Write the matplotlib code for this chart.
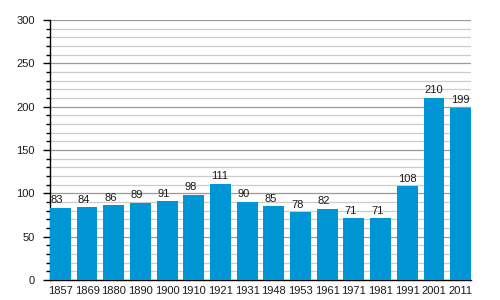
import matplotlib
matplotlib.use("Agg")
import matplotlib.pyplot as plt
from matplotlib.ticker import MultipleLocator

years = ["1857", "1869", "1880", "1890", "1900", "1910", "1921", "1931",
         "1948", "1953", "1961", "1971", "1981", "1991", "2001", "2011"]
values = [83, 84, 86, 89, 91, 98, 111, 90, 85, 78, 82, 71, 71, 108, 210, 199]

plt.rcParams['font.family'] = ['Liberation Sans', 'DejaVu Sans']

fig = plt.figure(figsize=(5, 3), dpi=100)
ax = fig.add_axes([0.1, 0.0667, 0.842, 0.8667])

w = 0.78
x = list(range(len(years)))
ax.bar(x, values, width=w, color="#0096d6", zorder=3)
for xi, v in zip(x, values):
    ax.text(xi - w / 2 + 0.03, v + 3, str(v), ha="left", va="bottom",
            fontsize=8, color="#1a1a1a", zorder=4)

ax.set_xlim(-w / 2, len(years) - 1 + w / 2)
ax.set_ylim(0, 300)
ax.set_xticks(x)
ax.set_xticklabels(years)
ax.yaxis.set_major_locator(MultipleLocator(50))
ax.yaxis.set_minor_locator(MultipleLocator(10))
ax.grid(axis="y", which="major", color="#999999", linewidth=0.9, zorder=1)
ax.grid(axis="y", which="minor", color="#cccccc", linewidth=0.9, zorder=1)
ax.grid(axis="x", visible=False)

for s in ["top", "right"]:
    ax.spines[s].set_visible(False)
ax.spines["left"].set_color("black")
ax.spines["bottom"].set_color("black")
ax.spines["left"].set_linewidth(1.0)
ax.spines["bottom"].set_linewidth(1.0)

ax.tick_params(axis="x", length=0, pad=4, labelsize=8, colors="#1a1a1a")
ax.tick_params(axis="y", which="major", length=5, width=1, pad=6,
               labelsize=8, colors="black", labelcolor="#1a1a1a")
ax.tick_params(axis="y", which="minor", length=3, width=1, colors="black")

fig.savefig("out.png", dpi=100)
